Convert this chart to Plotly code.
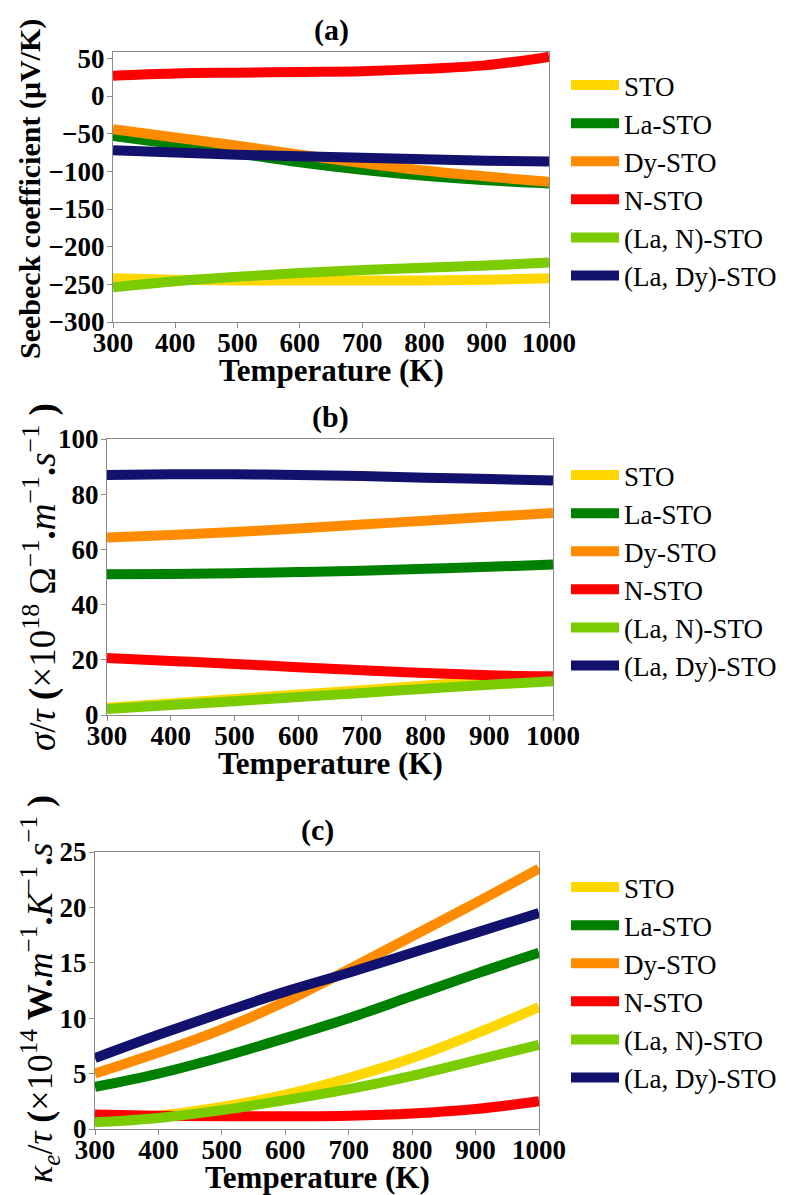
import plotly.graph_objects as go

W, H = 787, 1195

temperature = [300, 400, 500, 600, 700, 800, 900, 1000]
materials = ["STO", "La-STO", "Dy-STO", "N-STO", "(La, N)-STO", "(La, Dy)-STO"]
colors = ["#FFD700", "#008000", "#FF8C00", "#FF0000", "#7ACC00", "#12126E"]

# (a) Seebeck coefficient (µV/K)
seebeck_STO = [-242, -244, -245, -245, -245, -245, -244, -242]
seebeck_La = [-53, -64, -76, -88, -98, -106, -112, -116]
seebeck_Dy = [-44, -55, -66, -78, -89, -99, -107, -114]
seebeck_N = [27, 30, 31, 32, 33, 36, 41, 52]
seebeck_LaN = [-254, -246, -240, -235, -231, -228, -225, -221]
seebeck_LaDy = [-72, -75, -78, -80, -82, -84, -86, -87]

# (b) sigma/tau (x10^18)
sigma_STO = [2.6, 4.2, 5.8, 7.4, 9.0, 10.7, 12.3, 13.8]
sigma_La = [51.0, 51.1, 51.4, 51.8, 52.3, 53.0, 53.7, 54.5]
sigma_Dy = [64.3, 65.2, 66.3, 67.6, 69.0, 70.4, 71.8, 73.2]
sigma_N = [20.7, 19.6, 18.5, 17.3, 16.2, 15.2, 14.4, 14.0]
sigma_LaN = [2.2, 3.6, 5.0, 6.5, 8.0, 9.5, 11.0, 12.2]
sigma_LaDy = [87.0, 87.2, 87.2, 87.0, 86.6, 86.0, 85.5, 85.0]

# (c) kappa_e/tau (x10^14)
kappa_STO = [0.7, 1.2, 2.0, 3.1, 4.6, 6.4, 8.6, 11.0]
kappa_La = [3.8, 5.0, 6.5, 8.2, 10.0, 12.0, 14.0, 15.9]
kappa_Dy = [5.0, 6.9, 9.0, 11.5, 14.4, 17.4, 20.4, 23.5]
kappa_N = [1.3, 1.2, 1.15, 1.15, 1.2, 1.4, 1.8, 2.5]
kappa_LaN = [0.6, 1.0, 1.7, 2.6, 3.6, 4.8, 6.2, 7.6]
kappa_LaDy = [6.4, 8.5, 10.5, 12.4, 14.1, 15.9, 17.7, 19.5]

x_ticks = [300, 400, 500, 600, 700, 800, 900, 1000]
seebeck_ticks = [-300, -250, -200, -150, -100, -50, 0, 50]
sigma_ticks = [0, 20, 40, 60, 80, 100]
kappa_ticks = [0, 5, 10, 15, 20, 25]

panels = [
    dict(data=[seebeck_STO, seebeck_La, seebeck_Dy, seebeck_N, seebeck_LaN, seebeck_LaDy],
         box=(113, 549, 52, 322), yrange=[-300, 58.4], yticks=seebeck_ticks,
         title="(a)", title_y=30, xtitle_y=371, legend_y=61, gap=6.6,
         ylabel="<b>Seebeck coefficient (μV/K)</b>", ylabel_xy=(30, 189), ylabel_size=30),
    dict(data=[sigma_STO, sigma_La, sigma_Dy, sigma_N, sigma_LaN, sigma_LaDy],
         box=(107, 553, 439, 715), yrange=[0, 100], yticks=sigma_ticks,
         title="(b)", title_y=417, xtitle_y=763, legend_y=451, gap=6.6,
         ylabel="<i>σ</i>/<i>τ</i> <b>(</b>×10<sup>18</sup> Ω<sup>−1</sup><b>.</b><i>m</i><sup>−1</sup><b>.</b><i>s</i><sup>−1</sup> <b>)</b>",
         ylabel_xy=(40, 577), ylabel_size=37),
    dict(data=[kappa_STO, kappa_La, kappa_Dy, kappa_N, kappa_LaN, kappa_LaDy],
         box=(95, 539, 852, 1129), yrange=[0, 25], yticks=kappa_ticks,
         title="(c)", title_y=830, xtitle_y=1177, legend_y=863, gap=7.6,
         ylabel="<i>κ<sub>e</sub></i>/<i>τ</i> <b>(</b>×10<sup>14</sup> <b>W</b><b>.</b><i>m</i><sup>−1</sup><b>.</b><i>K</i><sup>−1</sup><b>.</b><i>s</i><sup>−1</sup> <b>)</b>",
         ylabel_xy=(40, 989), ylabel_size=36),
]

FONT = "Liberation Serif"
fig = go.Figure()
layout = dict(width=W, height=H, margin=dict(l=0, r=0, t=0, b=0, autoexpand=False),
              paper_bgcolor="white", plot_bgcolor="white", showlegend=True,
              font=dict(family=FONT, color="black"))
annotations = []

for i, p in enumerate(panels):
    n = "" if i == 0 else str(i + 1)
    leg = "legend" + n
    x0, x1, y0, y1 = p["box"]
    for name, col, ys in zip(materials, colors, p["data"]):
        fig.add_trace(go.Scatter(
            x=temperature, y=ys, mode="lines", name=name,
            line=dict(color=col, width=10, shape="spline"),
            xaxis="x" + n, yaxis="y" + n, legend=leg, legendgroup=leg + name,
        ))
    axis_common = dict(showgrid=False, zeroline=False, showline=True, mirror=True,
                       linecolor="#8a8a8a", linewidth=1.3, ticks="outside",
                       ticklen=5, tickcolor="#8a8a8a",
                       tickfont=dict(family=FONT, size=27, color="black", weight="bold"))
    layout["xaxis" + n] = dict(axis_common, domain=[x0 / W, x1 / W], range=[300, 1000],
                               tickvals=x_ticks, anchor="y" + n, ticklabelstandoff=-9)
    layout["yaxis" + n] = dict(axis_common, domain=[1 - y1 / H, 1 - y0 / H],
                               range=p["yrange"], tickvals=p["yticks"], anchor="x" + n,
                               ticklabelstandoff=-3)
    layout[leg] = dict(x=566 / W, y=1 - p["legend_y"] / H, xanchor="left", yanchor="top",
                       bgcolor="rgba(0,0,0,0)", font=dict(family=FONT, size=27, color="black"),
                       tracegroupgap=p["gap"], itemwidth=48, traceorder="normal")
    xc = (x0 + x1) / 2
    annotations.append(dict(text="<b>" + p["title"] + "</b>", xref="paper", yref="paper",
                            x=xc / W, y=1 - p["title_y"] / H, showarrow=False,
                            xanchor="center", yanchor="middle",
                            font=dict(family=FONT, size=30, color="black")))
    annotations.append(dict(text="<b>Temperature (K)</b>", xref="paper", yref="paper",
                            x=xc / W, y=1 - p["xtitle_y"] / H, showarrow=False,
                            xanchor="center", yanchor="middle",
                            font=dict(family=FONT, size=31, color="black")))
    lx, ly = p["ylabel_xy"]
    annotations.append(dict(text=p["ylabel"], xref="paper", yref="paper",
                            x=lx / W, y=1 - ly / H, showarrow=False, textangle=-90,
                            xanchor="center", yanchor="middle",
                            font=dict(family=FONT, size=p["ylabel_size"], color="black")))

layout["annotations"] = annotations
fig.update_layout(**layout)
fig.write_html("out.html", config={"displayModeBar": False},
               post_script="document.body.style.margin='0';document.body.style.overflow='hidden';")
